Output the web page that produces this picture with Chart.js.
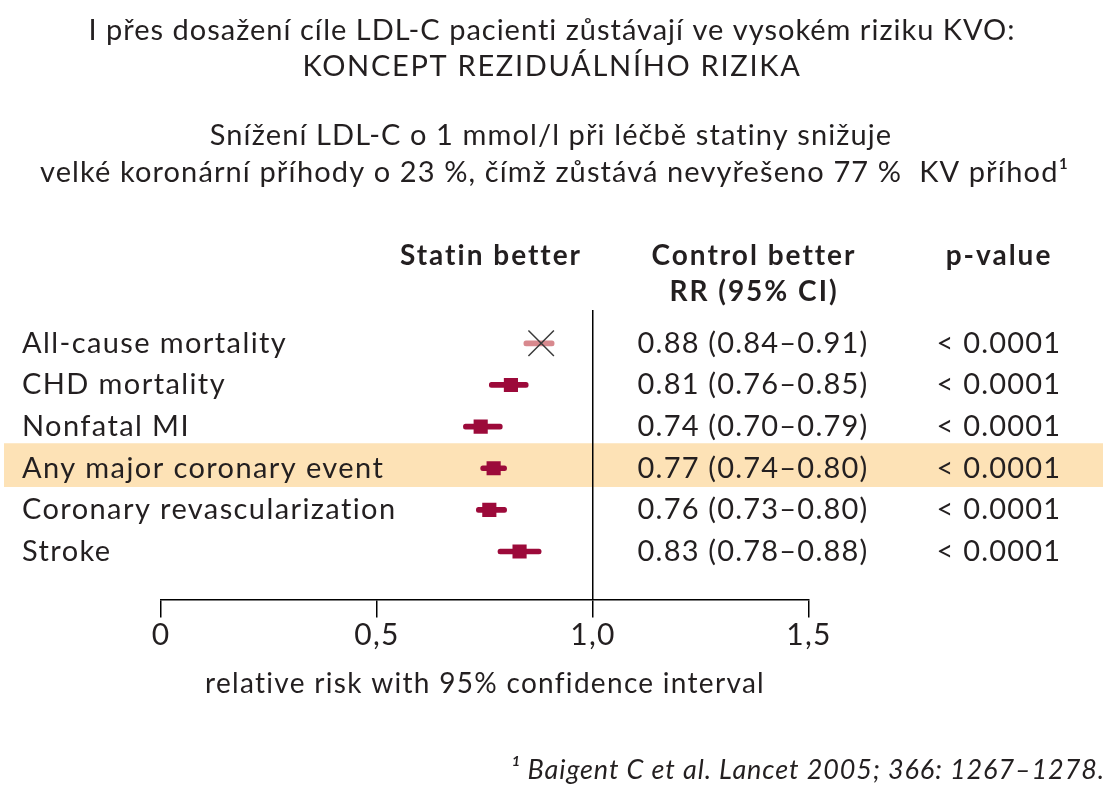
<!DOCTYPE html>
<html>
<head>
<meta charset="utf-8">
<script src="https://cdn.jsdelivr.net/npm/chart.js@4/dist/chart.umd.min.js"></script>
<style>
  body { margin: 0; background: #fff; }
  canvas { display: block; }
</style>
</head>
<body>
<canvas id="forest" width="1113" height="800"></canvas>
<script>
// ---- data ----
var outcomes = ['All-cause mortality', 'CHD mortality', 'Nonfatal MI',
                'Any major coronary event', 'Coronary revascularization', 'Stroke'];
var rr     = [0.88, 0.81, 0.74, 0.77, 0.76, 0.83];
var ciLow  = [0.84, 0.76, 0.70, 0.74, 0.73, 0.78];
var ciHigh = [0.91, 0.85, 0.79, 0.80, 0.80, 0.88];
var pValues = ['< 0.0001', '< 0.0001', '< 0.0001', '< 0.0001', '< 0.0001', '< 0.0001'];
var xTicks = [0, 0.5, 1.0, 1.5];
var highlightRow = 3;

var FONT = 'Lato, "Open Sans", sans-serif';
var TEXT = '#231f20';
var RED = '#9c0a3a';
var PINK = '#d8898e';

function fmt(v) { return v.toFixed(2); }

var rows = outcomes.map(function(o, i) { return i + 1; });
var points = rows.map(function(r, i) { return { x: rr[i], y: r }; });
var intervals = rows.map(function(r, i) { return { x: [ciLow[i], ciHigh[i]], y: r }; });

function text(ctx, str, x, y, font, spacing, align) {
    ctx.font = font;
    ctx.letterSpacing = spacing + 'px';
    ctx.textAlign = align || 'center';
    ctx.fillText(str, x, y);
}

// highlight band + text columns
var forestText = {
    id: 'forestText',
    beforeDraw: function(chart) {
        var ctx = chart.ctx;
        var y = chart.scales.y;
        var r = highlightRow + 1;
        var top = y.getPixelForValue(r - 0.6);
        var bot = y.getPixelForValue(r + 0.45);
        ctx.fillStyle = '#fde2b6';
        ctx.fillRect(4, top, 1099, bot - top);
        // axis labels get the same wide tracking as the rest
        ctx.letterSpacing = '1.3px';
    },
    afterDraw: function(chart) {
        var ctx = chart.ctx;
        var y = chart.scales.y;
        ctx.save();
        ctx.fillStyle = TEXT;
        ctx.textBaseline = 'middle';

        // titles
        text(ctx, 'I přes dosažení cíle LDL-C pacienti zůstávají ve vysokém riziku KVO:', 552, 31, '29px ' + FONT, 1.0);
        text(ctx, 'KONCEPT REZIDUÁLNÍHO RIZIKA', 552, 67, '29px ' + FONT, 1.7);
        text(ctx, 'Snížení LDL-C o 1 mmol/l při léčbě statiny snižuje', 551, 136, '29px ' + FONT, 1.1);
        text(ctx, 'velké koronární příhody o 23 %, čímž zůstává nevyřešeno 77 %  KV příhod¹', 40, 173, '29px ' + FONT, 1.1, 'left');

        // column headers
        var bold = 'bold 28px ' + FONT;
        text(ctx, 'Statin better', 491, 256, bold, 2);
        text(ctx, 'Control better', 754, 256, bold, 2);
        text(ctx, 'RR (95% CI)', 754, 292, bold, 2);
        text(ctx, 'p-value', 999, 256, bold, 2);

        // rows
        for (var i = 0; i < outcomes.length; i++) {
            var py = y.getPixelForValue(rows[i]);
            text(ctx, outcomes[i], 22, py, '29px ' + FONT, 1.4, 'left');
            text(ctx, fmt(rr[i]) + ' (' + fmt(ciLow[i]) + '–' + fmt(ciHigh[i]) + ')', 753, py, '29px ' + FONT, 1.2);
            text(ctx, pValues[i], 999, py, '29px ' + FONT, 1.2);
        }

        // footnote
        text(ctx, '¹ Baigent C et al. Lancet 2005; 366: 1267–1278.', 1105, 770, 'italic 27px ' + FONT, 0.9, 'right');
        ctx.restore();
    }
};

new Chart(document.getElementById('forest'), {
    data: {
        datasets: [{
            type: 'scatter',
            order: 0,
            data: points,
            pointStyle: function(c) { return c.dataIndex === 0 ? 'crossRot' : 'rect'; },
            pointRadius: function(c) { return c.dataIndex === 0 ? 18 : 10; },
            backgroundColor: RED,
            borderColor: function(c) { return c.dataIndex === 0 ? '#3a3a3a' : RED; },
            borderWidth: function(c) { return c.dataIndex === 0 ? 1.5 : 0; }
        }, {
            type: 'bar',
            order: 1,
            indexAxis: 'y',
            data: intervals,
            barThickness: 5,
            borderSkipped: false,
            borderRadius: 2.5,
            backgroundColor: function(c) { return c.dataIndex === 0 ? PINK : RED; }
        }]
    },
    options: {
        responsive: false,
        animation: false,
        devicePixelRatio: 1,
        layout: { padding: { left: 161, right: 304, top: 310, bottom: 99 } },
        plugins: { legend: { display: false }, tooltip: { enabled: false } },
        scales: {
            x: {
                type: 'linear',
                min: 0,
                max: 1.5,
                afterBuildTicks: function(axis) {
                    axis.ticks = xTicks.map(function(v) { return { value: v }; });
                },
                ticks: {
                    padding: 0,
                    color: TEXT,
                    font: { family: FONT, size: 30 },
                    callback: function(v) { return v === 0 ? '0' : v.toFixed(1).replace('.', ','); }
                },
                grid: {
                    drawOnChartArea: true,
                    tickLength: 18,
                    lineWidth: 1.5,
                    tickColor: '#000',
                    color: function(c) { return c.tick && c.tick.value === 1 ? '#000' : 'rgba(0,0,0,0)'; }
                },
                border: { color: '#000', width: 1.5 },
                title: {
                    display: true,
                    text: 'relative risk with 95% confidence interval',
                    color: TEXT,
                    font: { family: FONT, size: 28 },
                    padding: { top: 14, bottom: 0 }
                }
            },
            y: {
                type: 'linear',
                display: false,
                reverse: true,
                offset: false,
                min: 0.2,
                max: 7.15
            }
        }
    },
    plugins: [forestText]
});
</script>
</body>
</html>
